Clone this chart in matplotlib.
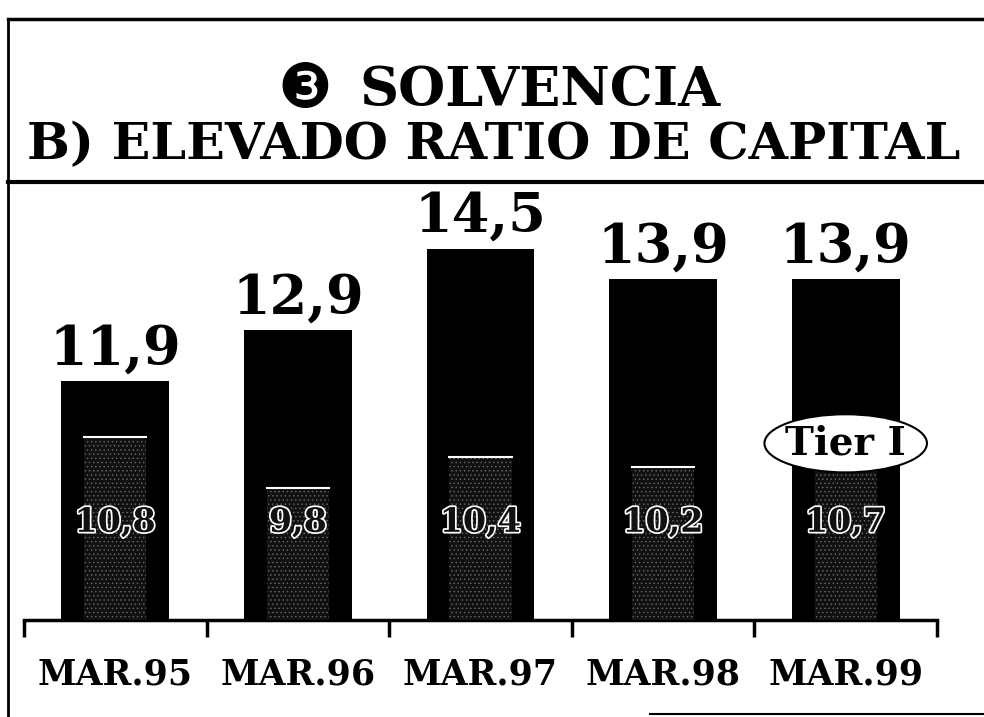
import matplotlib.pyplot as plt
import matplotlib.patheffects as pe
from matplotlib.patches import Ellipse
from matplotlib.lines import Line2D

# data
periods = ['MAR.95', 'MAR.96', 'MAR.97', 'MAR.98', 'MAR.99']
total_ratio = [11.9, 12.9, 14.5, 13.9, 13.9]
tier1 = [10.8, 9.8, 10.4, 10.2, 10.7]

serif = ['DejaVu Serif', 'DejaVu Sans']

fig = plt.figure(figsize=(9.84, 7.17), dpi=100)
fig.patch.set_facecolor('white')

# frame and title box (pixel coords -> figure coords)
W, H = 984, 717
def fline(x0, y0, x1, y1, lw):
    fig.add_artist(Line2D([x0 / W, x1 / W], [1 - y0 / H, 1 - y1 / H],
                          color='black', lw=lw, transform=fig.transFigure))

fline(8, 19, 984, 19, 2.5)
fline(8, 19, 8, 717, 2.0)
fline(8, 182, 984, 182, 3.0)
fline(650, 714, 984, 714, 1.5)

fig.text(305 / W, 1 - 91 / H, '\u2778', ha='center', va='center',
         fontsize=44, family=['DejaVu Sans'])
fig.text(540 / W, 1 - 91 / H, 'SOLVENCIA', ha='center', va='center',
         fontsize=39, fontweight='bold', family=serif)
fig.text(494 / W, 1 - 146 / H, 'B) ELEVADO RATIO DE CAPITAL', ha='center', va='center',
         fontsize=36.5, fontweight='bold', family=serif)

ax = fig.add_axes([24 / W, 1 - 620 / H, (937 - 24) / W, (620 - 190) / H])
x = range(len(periods))

ax.bar(x, total_ratio, width=0.59, color='black', zorder=2)
plt.rcParams['hatch.linewidth'] = 0.5
ax.bar(x, tier1, width=0.34, facecolor='#111111', edgecolor='#6a6a6a',
       hatch='....', linewidth=0, zorder=3)
# white rule on top of the inner bars
for xi, t in zip(x, tier1):
    ax.plot([xi - 0.17, xi + 0.17], [t, t], color='white', lw=1.5, zorder=4)

for xi, v in zip(x, total_ratio):
    ax.annotate(f'{v:.1f}'.replace('.', ','), (xi, v), xytext=(0, 4),
                textcoords='offset points', ha='center', va='bottom',
                fontsize=39, fontweight='bold', family=serif)

for xi, t in zip(x, tier1):
    ax.text(xi, 9.12, f'{t:.1f}'.replace('.', ','), ha='center', va='center',
            fontsize=24, fontweight='bold', family=serif, color='#111111',
            zorder=5,
            path_effects=[pe.withStroke(linewidth=2.5, foreground='white')])

ax.set_ylim(7.2, 15.65)
ax.set_xlim(-0.5, 4.5)

# Tier I callout
cy = 13.9 - (441 - 277) / 50.8
ax.add_patch(Ellipse((4, cy), 0.89, 58 / 50.8,
                     facecolor='white', edgecolor='black', lw=1.5, zorder=6))
ax.text(4, cy, 'Tier I', ha='center', va='center',
        fontsize=28, fontweight='bold', family=serif, zorder=7)

for s in ['left', 'right', 'top']:
    ax.spines[s].set_visible(False)
ax.spines['bottom'].set_linewidth(2.5)
ax.set_yticks([])
ax.set_xticks(list(x))
ax.set_xticklabels(periods, fontsize=25, fontweight='bold', family=serif)
ax.tick_params(axis='x', length=0, pad=27)
ax.set_xticks([i - 0.5 for i in range(len(periods) + 1)], minor=True)
ax.tick_params(axis='x', which='minor', length=12, width=2.5, direction='out')
ax.set_facecolor('white')

fig.savefig('out.png', dpi=100)
